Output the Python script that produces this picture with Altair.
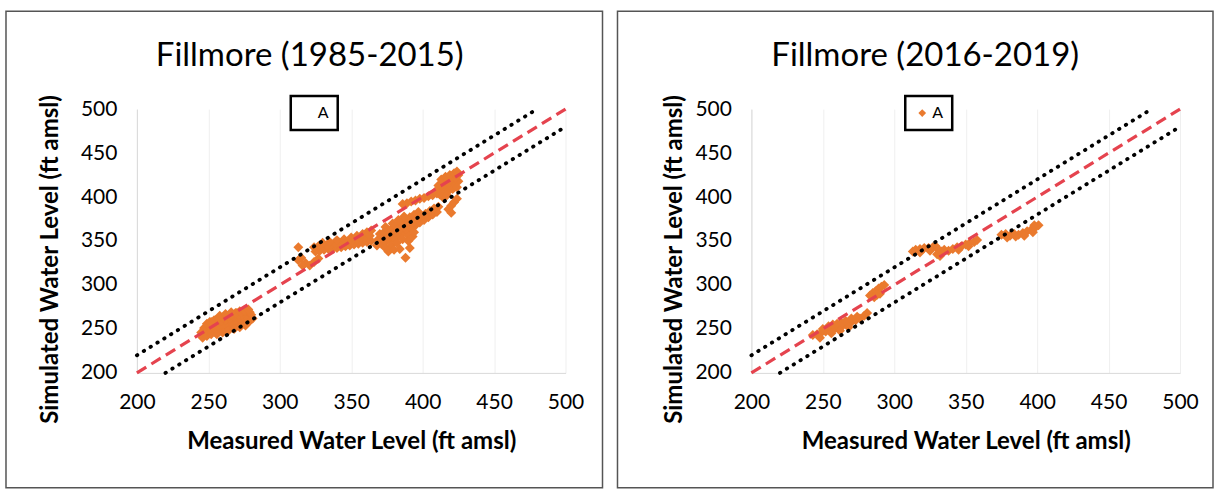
import altair as alt
import pandas as pd

SERIES = "A"
ORANGE = "#EA7A2E"
RED = "#E5434E"

TITLES = ["Fillmore (1985-2015)", "Fillmore (2016-2019)"]
TICKS = [200, 250, 300, 350, 400, 450, 500]

# 1:1 line and +/- 20 ft bands
ONE_X, ONE_Y = [200, 500], [200, 500]
UP_X, UP_Y = [200, 480], [220, 500]
LO_X, LO_Y = [220, 500], [200, 480]

# ---------------- Fillmore (1985-2015) ----------------
left_meas = [
    # cluster 245-283
    246, 249, 252, 255, 258, 261, 264, 267, 270, 273, 276, 279,
    245, 248, 251, 254, 257, 260, 263, 266, 269, 272, 275, 278, 281,
    247, 250, 253, 256, 259, 262, 265, 268, 271, 274, 277, 280,
    249, 252, 255, 258, 261, 264, 267, 270, 273, 276, 279,
    251, 254, 257, 260, 263, 266, 269, 272, 275, 278,
    256, 260, 264, 268, 272, 276,
    258, 262, 266,
    # cluster 313-327
    313, 313, 315, 318, 321, 324, 327, 316,
    # band 324-365
    325, 328, 331, 334, 337, 340, 343, 346, 349, 352, 355, 358, 361, 364,
    324, 327, 330, 333, 336, 339, 342, 345, 348, 351, 354, 357, 360, 363,
    330, 335, 340, 345, 350, 354, 358, 361, 364, 362,
    # diagonal blob 368-412
    368, 371, 374, 377, 380, 383, 386, 389, 392, 395, 398, 401, 404, 407, 410,
    369, 372, 375, 378, 381, 384, 387, 390, 393, 396, 399, 402, 405, 408, 411,
    370, 373, 376, 379, 382, 385, 388, 391, 394, 397,
    374, 378, 382, 386, 390,
    376, 380, 384, 379, 383, 387, 374, 390, 393, 394,
    388, 391,
    # band above
    386, 389, 392, 395, 398, 401, 404, 407, 410,
    # top cluster 410-426
    410, 413, 416, 419, 422, 425,
    411, 414, 417, 420, 423, 425,
    413, 416, 419, 422, 424,
    412, 415, 418, 421, 424,
    414, 417,
    # right outliers
    418, 420, 422, 424, 420,
]
left_sim = [
    240, 242, 244, 246, 248, 250, 252, 253, 255, 257, 258, 259,
    246, 248, 250, 251, 253, 255, 257, 258, 260, 262, 263, 262, 262,
    251, 254, 255, 257, 259, 260, 262, 264, 266, 267, 266, 266,
    256, 258, 260, 261, 263, 264, 266, 268, 269, 270, 269,
    258, 260, 262, 263, 265, 266, 268, 270, 271, 272,
    244, 246, 248, 250, 252, 254,
    265, 267, 269,
    343, 328, 331, 325, 322, 326, 330, 322,
    338, 339, 340, 341, 341, 342, 343, 344, 345, 346, 347, 348, 349, 350,
    343, 344, 344, 345, 346, 347, 348, 349, 350, 351, 352, 354, 355, 356,
    348, 349, 351, 352, 354, 356, 358, 360, 362, 358,
    345, 347, 349, 351, 353, 356, 359, 362, 365, 368, 371, 374, 377, 380, 383,
    352, 354, 356, 358, 360, 363, 366, 369, 372, 375, 378, 381, 384, 387, 389,
    358, 360, 362, 365, 368, 371, 374, 377, 380, 383,
    342, 345, 348, 352, 356,
    338, 340, 341, 370, 374, 378, 366, 350, 355, 360,
    331, 342,
    392, 393, 395, 396, 398, 399, 401, 402, 404,
    408, 410, 412, 414, 416, 418,
    413, 416, 418, 420, 422, 425,
    420, 423, 425, 427, 429,
    403, 405, 407, 409, 411,
    400, 402,
    386, 390, 394, 398, 382,
]

# ---------------- Fillmore (2016-2019) ----------------
right_meas = [
    243, 246, 249, 252, 255, 258, 261, 264, 267, 270, 273, 276, 279, 281,
    250, 254, 257, 260, 263, 266, 270, 274, 248, 256, 262, 268,
    283, 285, 287, 289, 291, 293, 286, 290, 288,
    313, 315, 318, 321, 324, 327, 329, 331, 330, 333, 335, 338, 341, 344,
    347, 350, 353, 356, 358, 318, 325, 332, 345, 352,
    375, 378, 381, 384, 387, 390, 393, 396, 399, 401, 397, 391, 385, 379, 398,
]
right_sim = [
    243, 244, 246, 247, 249, 250, 252, 254, 256, 258, 260, 262, 265, 268,
    250, 253, 255, 256, 257, 259, 262, 264, 240, 245, 248, 252,
    288, 291, 293, 296, 298, 300, 286, 290, 289,
    338, 340, 341, 342, 342, 343, 344, 340, 335, 338, 340, 339, 341, 343,
    344, 346, 348, 349, 351, 337, 339, 333, 340, 344,
    357, 358, 356, 358, 357, 359, 361, 363, 366, 368, 360, 356, 355, 354, 368,
]

FONT = "Lato"


def panel(title, meas, sim, title_x, border, ytitle_pad, symbol_opacity):
    pts = pd.DataFrame({"meas": meas, "sim": sim, "series": [SERIES] * len(meas)})
    one = pd.DataFrame({"meas": ONE_X, "sim": ONE_Y})
    up = pd.DataFrame({"meas": UP_X, "sim": UP_Y})
    lo = pd.DataFrame({"meas": LO_X, "sim": LO_Y})

    xs = alt.Scale(domain=[200, 500], nice=False, zero=False)
    ys = alt.Scale(domain=[200, 500], nice=False, zero=False)
    xaxis = alt.Axis(
        values=TICKS, title="Measured Water Level (ft amsl)", grid=True,
        gridColor="#efefef", domainColor="#d9d9d9", ticks=False,
        labelPadding=19, titlePadding=17, labelFontSize=21, titleFontSize=24,
        titleFontWeight="bold", labelFont=FONT, titleFont=FONT,
        labelColor="black", titleColor="black", labelFlush=False,
    )
    yaxis = alt.Axis(
        values=TICKS, title="Simulated Water Level (ft amsl)", grid=False,
        domainColor="#d9d9d9", ticks=False, labelPadding=20,
        titlePadding=ytitle_pad, labelFontSize=21, titleFontSize=24,
        titleFontWeight="bold", labelFont=FONT, titleFont=FONT,
        labelColor="black", titleColor="black", labelFlush=False, titleY=150,
    )
    X = alt.X("meas:Q", scale=xs, axis=xaxis)
    Y = alt.Y("sim:Q", scale=ys, axis=yaxis)

    frame = alt.Chart(pd.DataFrame({"b": [0]})).mark_rect(
        fillOpacity=0, stroke="#555555", strokeWidth=1.5
    ).encode(
        x=alt.value(border[0]), x2=alt.value(border[1]),
        y=alt.value(border[2]), y2=alt.value(border[3]),
    )

    heading = alt.Chart(pd.DataFrame({"t": [title]})).mark_text(
        font=FONT, fontSize=33, color="black", align="center",
        baseline="alphabetic",
    ).encode(x=alt.value(title_x), y=alt.value(-43), text="t:N")

    points = alt.Chart(pts).mark_point(
        shape="diamond", filled=True, size=100, opacity=1
    ).encode(
        x=X, y=Y,
        color=alt.Color(
            "series:N",
            scale=alt.Scale(domain=[SERIES], range=[ORANGE]),
            legend=alt.Legend(
                title=None, orient="none", legendX=154, legendY=-13,
                strokeColor="black", fillColor="white",
                padding=9, symbolType="diamond", symbolSize=60,
                symbolOpacity=symbol_opacity, labelFontSize=16,
                labelFont=FONT, labelColor="black", labelOffset=2,
            ),
        ),
    )

    one_line = alt.Chart(one).mark_line(
        color=RED, strokeDash=[11, 6], strokeWidth=3.2
    ).encode(x=X, y=Y)
    up_line = alt.Chart(up).mark_line(
        color="black", strokeDash=[0.5, 7.5], strokeCap="round", strokeWidth=3.8
    ).encode(x=X, y=Y)
    lo_line = alt.Chart(lo).mark_line(
        color="black", strokeDash=[0.5, 7.5], strokeCap="round", strokeWidth=3.8
    ).encode(x=X, y=Y)

    return alt.layer(frame, heading, points, one_line, up_line, lo_line).properties(
        width=429, height=264,
    )


left = panel(TITLES[0], left_meas, left_sim, 173,
             (-131, 466, -98, 379), 18, 0)
right = panel(TITLES[1], right_meas, right_sim, 174,
              (-134, 462, -98, 379), 8, 1)

chart = alt.hconcat(left, right, spacing=13).resolve_scale(
    color="independent"
).resolve_legend(color="independent").properties(
    padding={"left": 5, "top": 10, "right": 1, "bottom": 2},
    background="white",
).configure_view(stroke=None).configure_legend(strokeWidth=2.5)

chart.save("out.html", embed_options={"renderer": "svg", "actions": False})
